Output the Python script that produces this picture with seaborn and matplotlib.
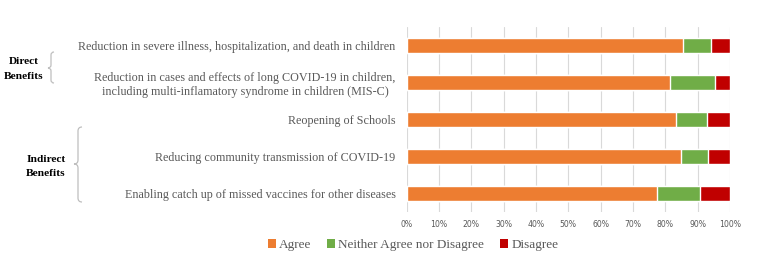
import matplotlib
matplotlib.use("Agg")
import matplotlib.pyplot as plt
from matplotlib.path import Path
from matplotlib.patches import PathPatch, Patch
import seaborn as sns
import pandas as pd
import numpy as np

items = [
    "Reduction in severe illness, hospitalization, and death in children",
    "Reduction in cases and effects of long COVID-19 in children,\nincluding multi-inflamatory syndrome in children (MIS-C)",
    "Reopening of Schools",
    "Reducing community transmission of COVID-19",
    "Enabling catch up of missed vaccines for other diseases",
]
agree = [85.4, 81.4, 83.3, 84.9, 77.4]
neither = [8.6, 14.1, 9.6, 8.3, 13.3]
disagree = [6.0, 4.5, 7.1, 6.8, 9.3]
series = ["Agree", "Neither Agree nor Disagree", "Disagree"]
colors = ["#ED7D31", "#70AD47", "#C00000"]
ticks = [0, 10, 20, 30, 40, 50, 60, 70, 80, 90, 100]

W, H = 784, 260


def fx(px):
    return px / W


def fy(py):
    return 1 - py / H


def brace(fig, x, y0, y1, ym, w):
    # left-pointing curly brace, coords in pixels
    pts = [
        (x + w, y0), (x + w / 2, y0), (x + w / 2, y0 + w / 2),
        (x + w / 2, ym - w / 2),
        (x + w / 2, ym), (x, ym),
        (x + w / 2, ym), (x + w / 2, ym + w / 2),
        (x + w / 2, y1 - w / 2),
        (x + w / 2, y1), (x + w, y1),
    ]
    codes = [Path.MOVETO, Path.CURVE3, Path.CURVE3, Path.LINETO,
             Path.CURVE3, Path.CURVE3, Path.CURVE3, Path.CURVE3,
             Path.LINETO, Path.CURVE3, Path.CURVE3]
    verts = [(fx(a), fy(b)) for a, b in pts]
    fig.patches.append(PathPatch(Path(verts, codes), transform=fig.transFigure,
                                 fill=False, edgecolor="#bfbfbf", lw=0.9))


def main():
    sns.set_theme(style="white")
    plt.rcParams["font.family"] = ["Liberation Serif", "DejaVu Serif"]

    df = pd.DataFrame({"item": items, "Agree": agree,
                       "Neither": neither, "Disagree": disagree})
    df["c2"] = df["Agree"] + df["Neither"]
    df["c3"] = df["c2"] + df["Disagree"]

    fig = plt.figure(figsize=(W / 100, H / 100), dpi=100)
    ax = fig.add_axes([fx(406.7), fy(212), fx(730) - fx(406.7), fy(27) - fy(212)])

    # stacked bars: draw totals first, then overlay
    for col, c in zip(["c3", "c2", "Agree"], colors[::-1]):
        sns.barplot(data=df, x=col, y="item", color=c, width=0.39,
                    saturation=1, ax=ax, orient="h")

    ax.set_xlim(0, 100)
    ax.set_xticks(ticks)
    ax.set_xticklabels([f"{t}%" for t in ticks], family="DejaVu Sans",
                       fontsize=5.6, color="#595959")
    ax.set_yticks(range(len(items)))
    ax.set_yticklabels(items, fontsize=8.7, color="#595959",
                       multialignment="center")
    ax.tick_params(axis="y", length=0, pad=8)
    ax.tick_params(axis="x", length=0, pad=6)
    ax.set_xlabel("")
    ax.set_ylabel("")
    ax.grid(axis="x", color="#d9d9d9", lw=0.8)
    ax.set_axisbelow(True)
    sns.despine(ax=ax, left=True, bottom=True)

    # group labels + braces
    fig.text(fx(24), fy(69), "Direct\nBenefits", ha="center", va="center",
             fontsize=8.2, fontweight="bold", color="black", linespacing=1.75)
    fig.text(fx(46), fy(166.5), "Indirect\nBenefits", ha="center", va="center",
             fontsize=8.2, fontweight="bold", color="black", linespacing=1.75)
    brace(fig, 48, 52, 83, 68, 6)
    brace(fig, 74, 127, 202, 164, 8)

    handles = [Patch(facecolor=c, edgecolor="none") for c in colors]
    fig.legend(handles, series, loc="center", bbox_to_anchor=(fx(413), fy(245)),
               ncol=3, frameon=False, fontsize=9.5, handlelength=0.6,
               handleheight=0.6, handletextpad=0.25, columnspacing=1.2,
               labelcolor="#595959")

    fig.savefig("out.png", dpi=100)


if __name__ == "__main__":
    main()
